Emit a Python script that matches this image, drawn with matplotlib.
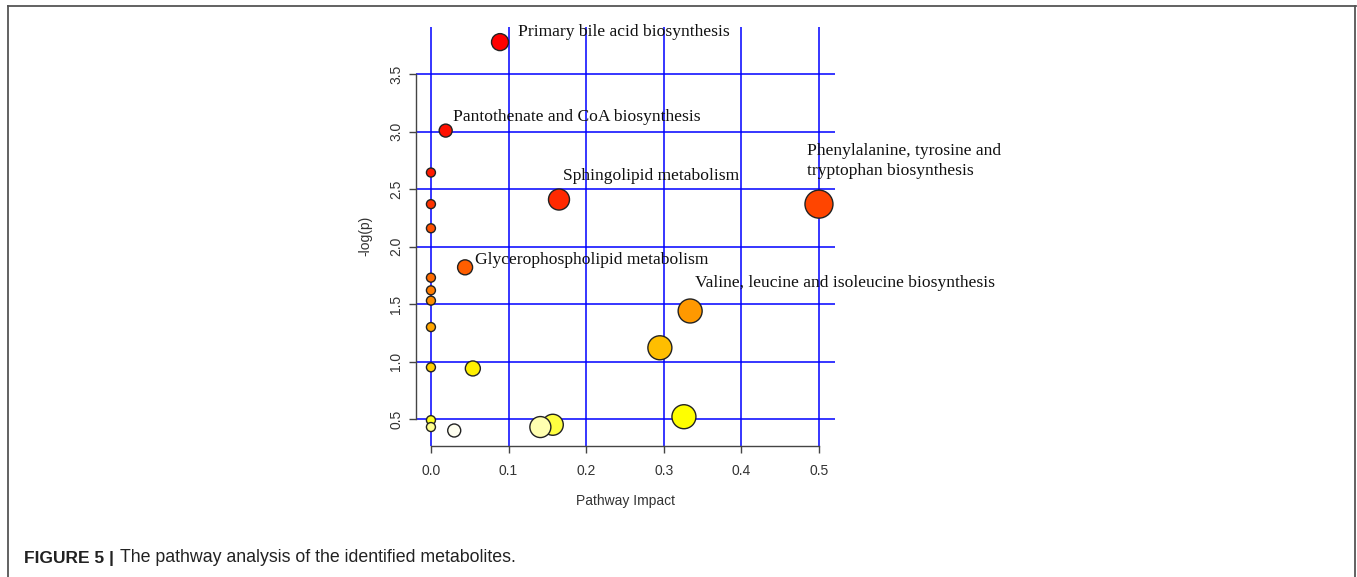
import matplotlib.pyplot as plt
from matplotlib.lines import Line2D

# pathway impact (x) and -log(p) (y) for each pathway
impact = [0.0, 0.0, 0.0, 0.0, 0.0, 0.0, 0.0, 0.0, 0.0, 0.0,
          0.089, 0.019, 0.165, 0.5, 0.044, 0.334, 0.295, 0.054,
          0.326, 0.030, 0.157, 0.141]
neglogp = [2.645, 2.37, 2.16, 1.73, 1.62, 1.53, 1.30, 0.95, 0.49, 0.43,
           3.78, 3.01, 2.41, 2.37, 1.82, 1.44, 1.12, 0.94,
           0.52, 0.40, 0.45, 0.43]
radius_px = [4.5, 4.5, 4.5, 4.5, 4.5, 4.5, 4.5, 4.5, 4.5, 4.5,
             8.5, 6.5, 10.5, 14, 7.5, 12, 12, 7.5,
             12, 6.5, 10.5, 10.5]
fill = ["#ff1a00", "#ff3300", "#ff5000", "#ff6a00", "#ff7c00", "#ff8c00",
        "#ffa500", "#ffd000", "#ffff20", "#ffff90",
        "#ff0000", "#ff1000", "#ff2a00", "#ff4500", "#ff5e00", "#ff9900",
        "#ffbe00", "#fff000", "#ffff00", "#fffff0", "#ffff40", "#ffffb0"]

# labelled pathways: text, index into arrays above, offset in pixels
labels = ["Primary bile acid biosynthesis",
          "Pantothenate and CoA biosynthesis",
          "Sphingolipid metabolism",
          "Phenylalanine, tyrosine and\ntryptophan biosynthesis",
          "Glycerophospholipid metabolism",
          "Valine, leucine and isoleucine biosynthesis"]
label_idx = [10, 11, 12, 13, 14, 15]
label_off = [(18, 10), (7, 14), (4, 24), (-12, 43), (10, 7), (5, 28)]

xticks = [0.0, 0.1, 0.2, 0.3, 0.4, 0.5]
yticks = [0.5, 1.0, 1.5, 2.0, 2.5, 3.0, 3.5]

fig = plt.figure(figsize=(13.57, 5.77), dpi=100)
ax = fig.add_axes([0.3063, 0.2276, 0.309, 0.7257])

ax.set_xlim(-0.0197, 0.5206)
ax.set_ylim(0.268, 3.912)

for x in xticks:
    ax.axvline(x, color="#0000ff", lw=1.1, zorder=1)
for y in yticks:
    ax.axhline(y, color="#0000ff", lw=1.1, zorder=1)

sizes = [(1.44 * r) ** 2 for r in radius_px]
ax.scatter(impact, neglogp, s=sizes, c=fill, edgecolors="#222222",
           linewidths=1.0, zorder=3, clip_on=False)

for txt, i, off in zip(labels, label_idx, label_off):
    ax.annotate(txt, (impact[i], neglogp[i]), xytext=off,
                textcoords="offset pixels", ha="left", va="center",
                fontsize=12.6, family="Liberation Serif", color="#111111",
                linespacing=1.3, zorder=4, annotation_clip=False)

ax.spines["top"].set_visible(False)
ax.spines["right"].set_visible(False)
ax.spines["left"].set_bounds(0.5, 3.5)
ax.spines["bottom"].set_bounds(0.0, 0.5)
for sp in ("left", "bottom"):
    ax.spines[sp].set_color("#444444")
    ax.spines[sp].set_linewidth(1.0)

ax.set_xticks(xticks)
ax.set_yticks(yticks)
ax.set_xticklabels([f"{v:.1f}" for v in xticks])
ax.set_yticklabels([f"{v:.1f}" for v in yticks], rotation=90, va="center")
ax.tick_params(direction="out", length=5, width=1.0, color="#444444",
               labelsize=10, labelcolor="#333333")
ax.tick_params(axis="x", pad=8)
ax.tick_params(axis="y", pad=4)
for t in ax.get_xticklabels() + ax.get_yticklabels():
    t.set_family("Liberation Sans")

ax.set_xlabel("Pathway Impact", fontsize=10, family="Liberation Sans",
              color="#333333", labelpad=12)
ax.set_ylabel("-log(p)", fontsize=10, family="Liberation Sans",
              color="#333333", labelpad=12)

# frame around the figure panel
for xs, ys in [((8 / 1357, 1356 / 1357), (1 - 6 / 577, 1 - 6 / 577)),
               ((8 / 1357, 8 / 1357), (0, 1 - 6 / 577)),
               ((1355 / 1357, 1355 / 1357), (0, 1 - 6 / 577))]:
    fig.add_artist(Line2D(xs, ys, color="#555555", lw=1.3))

fig.text(24 / 1357, 1 - 558 / 577, "FIGURE 5 |", fontsize=12.5,
         family="Liberation Sans", weight="bold", color="#222222",
         va="center")
fig.text(120 / 1357, 1 - 558 / 577,
         "The pathway analysis of the identified metabolites.",
         fontsize=12.8, family="Liberation Sans", color="#222222",
         va="center")

fig.savefig("out.png", dpi=100)
